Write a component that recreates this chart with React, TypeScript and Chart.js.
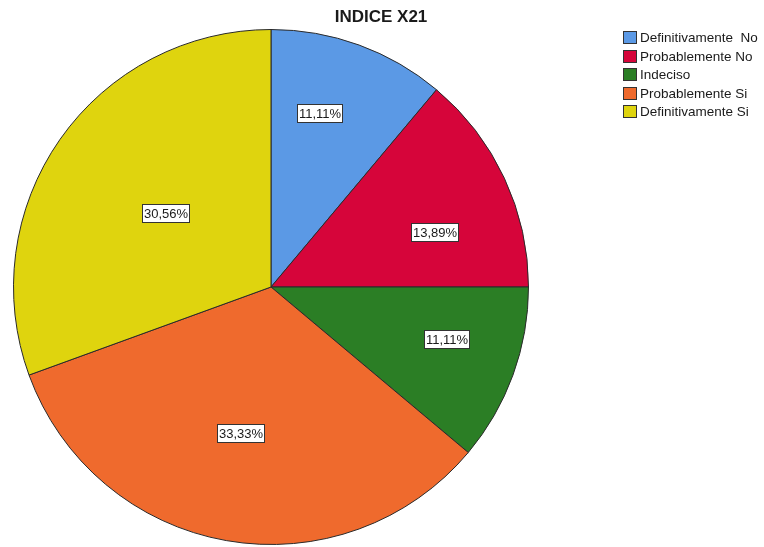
import React, { useEffect, useRef } from "react";
import { Chart, registerables } from "chart.js";

Chart.register(...registerables);

const chartTitle = "INDICE X21";
const categories = [
  "Definitivamente  No",
  "Probablemente No",
  "Indeciso",
  "Probablemente Si",
  "Definitivamente Si",
];
const counts = [4, 5, 4, 12, 11];
const percentLabels = ["11,11%", "13,89%", "11,11%", "33,33%", "30,56%"];
const colors = ["#5b99e5", "#d6053a", "#2b7e25", "#ef6a2d", "#dfd40e"];
const labelRadius = [0.7, 0.67, 0.71, 0.58, 0.5];
const labelAngleShiftDeg = [-4.3, 6.4, -3.5, 1.7, 0];

const FONT = "'Liberation Sans', Arial, sans-serif";

const decorPlugin = {
  id: "decor",
  afterDatasetsDraw(chart: any) {
    const ctx = chart.ctx as CanvasRenderingContext2D;
    const meta = chart.getDatasetMeta(0);
    ctx.save();
    // slice labels
    ctx.font = `13px ${FONT}`;
    ctx.textAlign = "center";
    ctx.textBaseline = "middle";
    meta.data.forEach((arc: any, i: number) => {
      const p = arc.getProps(["x", "y", "startAngle", "endAngle", "outerRadius"], true);
      const mid = (p.startAngle + p.endAngle) / 2 + (labelAngleShiftDeg[i] * Math.PI) / 180;
      const r = p.outerRadius * labelRadius[i];
      const cx = p.x + Math.cos(mid) * r;
      const cy = p.y + Math.sin(mid) * r;
      const txt = percentLabels[i];
      const w = Math.round(ctx.measureText(txt).width + 3);
      const h = 18;
      const bx = Math.round(cx - w / 2) + 0.5;
      const by = Math.round(cy - h / 2) + 0.5;
      ctx.fillStyle = "#ffffff";
      ctx.fillRect(bx, by, w, h);
      ctx.strokeStyle = "#333333";
      ctx.lineWidth = 1;
      ctx.strokeRect(bx, by, w, h);
      ctx.fillStyle = "#1a1a1a";
      ctx.fillText(txt, bx + w / 2, by + h / 2 + 0.5);
    });
    // title
    ctx.font = `bold 17px ${FONT}`;
    ctx.fillStyle = "#1a1a1a";
    ctx.textAlign = "center";
    ctx.textBaseline = "alphabetic";
    ctx.fillText(chartTitle, 381, 22);
    // legend
    ctx.font = `13.5px ${FONT}`;
    ctx.textAlign = "left";
    ctx.textBaseline = "middle";
    categories.forEach((c, i) => {
      const y = 31 + i * 18.5;
      const by = Math.round(y) + 0.5;
      ctx.fillStyle = colors[i];
      ctx.fillRect(623.5, by, 13, 12);
      ctx.strokeStyle = "#333333";
      ctx.lineWidth = 1;
      ctx.strokeRect(623.5, by, 13, 12);
      ctx.fillStyle = "#1a1a1a";
      ctx.fillText(c, 640, by + 6.5);
    });
    ctx.restore();
  },
};

export default function App() {
  const ref = useRef<HTMLCanvasElement | null>(null);
  useEffect(() => {
    if (!ref.current) return;
    const chart = new Chart(ref.current, {
      type: "pie",
      data: {
        labels: categories,
        datasets: [
          {
            data: counts,
            backgroundColor: colors,
            borderColor: "#2a2a2a",
            borderWidth: 1,
          },
        ],
      },
      options: {
        responsive: false,
        animation: false,
        layout: { padding: { left: 13, top: 29, right: 235, bottom: 2 } },
        plugins: {
          legend: { display: false },
          title: { display: false },
          tooltip: { enabled: false },
        },
      },
      plugins: [decorPlugin],
    });
    return () => chart.destroy();
  }, []);
  return (
    <div style={{ position: "absolute", left: 0, top: 0, width: 764, height: 547, background: "#ffffff" }}>
      <canvas ref={ref} width={764} height={547} style={{ width: 764, height: 547 }} />
    </div>
  );
}
